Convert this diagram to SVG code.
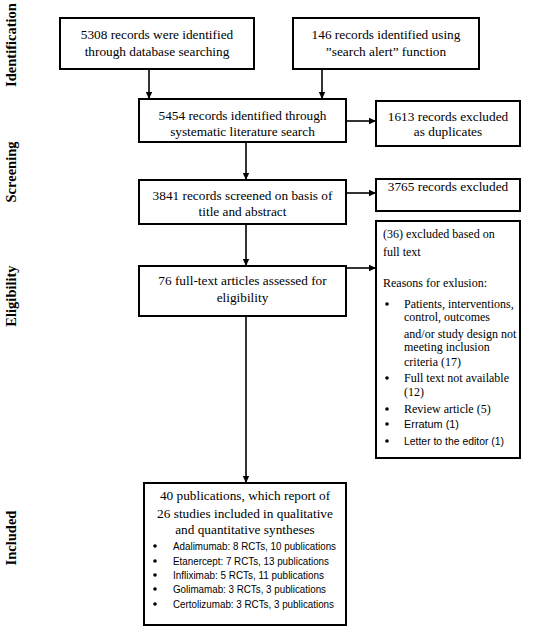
<svg xmlns="http://www.w3.org/2000/svg" width="537" height="629" viewBox="0 0 537 629">
<defs>
<marker id="ah" markerWidth="8" markerHeight="8" refX="7" refY="4" orient="auto" markerUnits="userSpaceOnUse">
<path d="M0,0.8 L7,4 L0,7.2 Z" fill="#000"/>
</marker>
<style>
.box{fill:#fff;stroke:#000;stroke-width:2}
.t{font-family:"Liberation Serif","Times New Roman",serif;font-size:13.3px;fill:#000;text-anchor:middle}
.s{font-family:"Liberation Serif","Times New Roman",serif;font-size:12px;fill:#000}
.ss{font-family:"Liberation Sans",Arial,sans-serif;font-size:11px;fill:#000}
.f{font-family:"Liberation Sans",Arial,sans-serif;font-size:10.8px;fill:#000}
.lab{font-family:"Liberation Serif","Times New Roman",serif;font-size:14.5px;font-weight:bold;fill:#000;text-anchor:middle}
.c{stroke:#000;stroke-width:1.6;fill:none;marker-end:url(#ah)}
</style>
</defs>
<rect width="537" height="629" fill="#fff"/>
<g id="stage-labels">
<text class="lab" transform="translate(16,45) rotate(-90)">Identification</text>
<text class="lab" transform="translate(16,172) rotate(-90)">Screening</text>
<text class="lab" transform="translate(16,296) rotate(-90)">Eligibility</text>
<text class="lab" transform="translate(16,538) rotate(-90)">Included</text>
</g>
<g id="connectors">
<line class="c" x1="149" y1="69" x2="149" y2="99"/>
<line class="c" x1="322" y1="69" x2="322" y2="99"/>
<line class="c" x1="346" y1="121" x2="376" y2="121"/>
<line class="c" x1="246" y1="142" x2="246" y2="180"/>
<line class="c" x1="346" y1="193" x2="376" y2="193"/>
<line class="c" x1="246" y1="224" x2="246" y2="266"/>
<line class="c" x1="346" y1="268" x2="376" y2="268"/>
<line class="c" x1="246" y1="316" x2="246" y2="483"/>
</g>
<g id="n-database">
<rect class="box" x="60" y="18" width="194" height="51"/>
<text class="t" x="157" y="38.5">5308 records were identified</text>
<text class="t" x="157" y="55.5">through database searching</text>
</g>
<g id="n-alert">
<rect class="box" x="293" y="18" width="186" height="51"/>
<text class="t" x="386" y="38.5">146 records identified using</text>
<text class="t" x="386" y="55.5">”search alert” function</text>
</g>
<g id="n-identified">
<rect class="box" x="139" y="99" width="207" height="43"/>
<text class="t" x="242.5" y="119.5">5454 records identified through</text>
<text class="t" x="242.5" y="135.5">systematic literature search</text>
</g>
<g id="n-duplicates">
<rect class="box" x="376" y="101" width="144" height="45"/>
<text class="t" x="448" y="121">1613 records excluded</text>
<text class="t" x="448" y="136">as duplicates</text>
</g>
<g id="n-screened">
<rect class="box" x="139" y="180" width="207" height="44"/>
<text class="t" x="242.5" y="199.5">3841 records screened on basis of</text>
<text class="t" x="242.5" y="216">title and abstract</text>
</g>
<g id="n-excluded">
<rect class="box" x="376" y="179" width="144" height="32"/>
<text class="t" x="448" y="190.5">3765 records excluded</text>
</g>
<g id="n-fulltext">
<rect class="box" x="139" y="266" width="207" height="50"/>
<text class="t" x="242.5" y="284.5">76 full-text articles assessed for</text>
<text class="t" x="242.5" y="301.5">eligibility</text>
</g>
<g id="n-exclusion-reasons">
<rect class="box" x="376" y="221" width="144" height="237"/>
<text class="s" x="383" y="238">(36) excluded based on</text>
<text class="s" x="383" y="256">full text</text>
<text class="s" x="383" y="287">Reasons for exlusion:</text>
<circle cx="387" cy="304" r="1.8"/>
<text class="s" x="404" y="308">Patients, interventions,</text>
<text class="s" x="404" y="321">control, outcomes</text>
<text class="s" x="404" y="338">and/or study design not</text>
<text class="s" x="404" y="351">meeting inclusion</text>
<text class="s" x="404" y="366">criteria (17)</text>
<circle cx="387" cy="378" r="1.8"/>
<text class="s" x="404" y="382">Full text not available</text>
<text class="s" x="404" y="396">(12)</text>
<circle cx="387" cy="409" r="1.8"/>
<text class="s" x="404" y="413">Review article (5)</text>
<circle cx="387" cy="424" r="1.8"/>
<text class="ss" x="404" y="428" textLength="55" lengthAdjust="spacingAndGlyphs">Erratum (1)</text>
<circle cx="387" cy="441" r="1.8"/>
<text class="ss" x="404" y="445" textLength="100" lengthAdjust="spacingAndGlyphs">Letter to the editor (1)</text>
</g>
<g id="n-included">
<rect class="box" x="144" y="483" width="202" height="142"/>
<text class="t" x="245" y="499.5">40 publications, which report of</text>
<text class="t" x="245" y="517.5">26 studies included in qualitative</text>
<text class="t" x="245" y="533.5">and quantitative syntheses</text>
<circle cx="155" cy="546" r="1.8"/>
<text class="f" x="173" y="549.5" textLength="163" lengthAdjust="spacingAndGlyphs">Adalimumab: 8 RCTs, 10 publications</text>
<circle cx="155" cy="561" r="1.8"/>
<text class="f" x="173" y="564.5" textLength="156" lengthAdjust="spacingAndGlyphs">Etanercept: 7 RCTs, 13 publications</text>
<circle cx="155" cy="575" r="1.8"/>
<text class="f" x="173" y="578.5" textLength="151" lengthAdjust="spacingAndGlyphs">Infliximab: 5 RCTs, 11 publications</text>
<circle cx="155" cy="589" r="1.8"/>
<text class="f" x="173" y="592.5" textLength="153" lengthAdjust="spacingAndGlyphs">Golimamab: 3 RCTs, 3 publications</text>
<circle cx="155" cy="604" r="1.8"/>
<text class="f" x="173" y="607.5" textLength="161" lengthAdjust="spacingAndGlyphs">Certolizumab: 3 RCTs, 3 publications</text>
</g>
</svg>
